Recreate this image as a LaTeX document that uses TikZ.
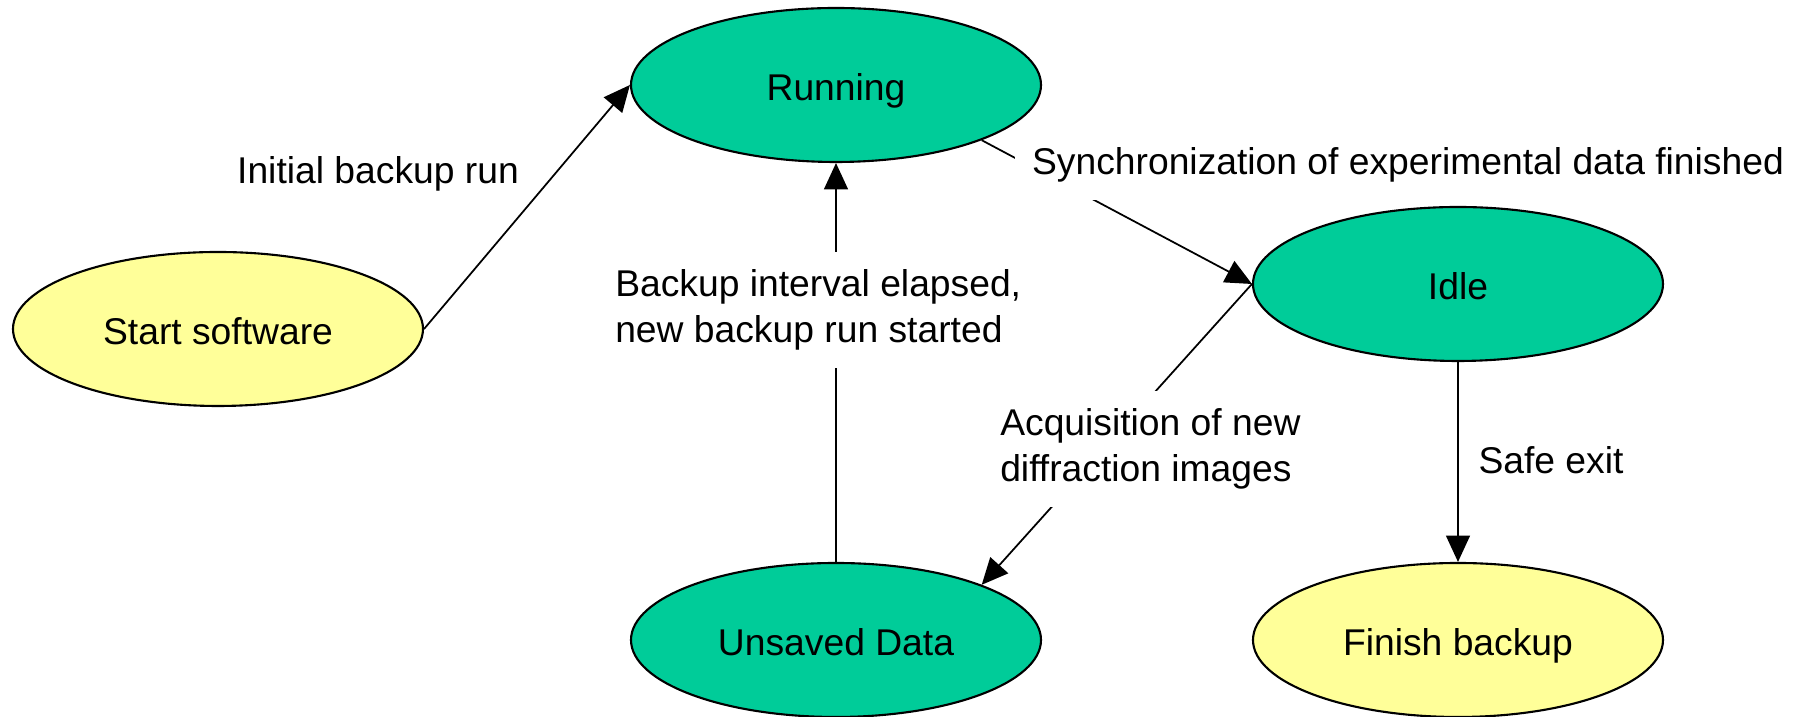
\documentclass[tikz,border=0pt]{standalone}
\usepackage{fontspec}
\setmainfont{Liberation Sans}
\usepackage{xcolor}
\usepackage{tikz}
\usetikzlibrary{shapes.geometric,arrows.meta}
\definecolor{stategreen}{HTML}{00CC99}
\definecolor{stateyellow}{HTML}{FFFF99}

\begin{document}
\begin{tikzpicture}[
  state/.style={ellipse, draw=black, line width=0.6pt, minimum width=4.1cm, minimum height=1.54cm, font=\fontsize{10.6}{13.1}\selectfont, text height=10.8pt, text depth=2.2pt},
  lbl/.style={fill=white, inner sep=5pt, align=left, font=\fontsize{10.6}{13.1}\selectfont},
  arr/.style={-{Triangle[length=7.5pt,width=6.8pt]}, line width=0.5pt}
]
\useasboundingbox (0,0) rectangle (17.97,-7.17);

\node[state, fill=stateyellow] (start) at (2.18,-3.29) {Start software};
\node[state, fill=stategreen] (run) at (8.36,-0.85) {Running};
\node[state, fill=stategreen] (idle) at (14.58,-2.84) {Idle};
\node[state, fill=stategreen] (unsaved) at (8.36,-6.40) {Unsaved Data};
\node[state, fill=stateyellow] (finish) at (14.58,-6.40) {Finish backup};

\draw[arr] (start.east) -- (run.west);
\draw[arr] (run.south east) -- (idle.west);
\draw[arr] (idle.west) -- (unsaved.north east);
\draw[arr] (unsaved.north) -- (run.south);
\draw[arr] (idle.south) -- (finish.north);

\node[lbl, fill=none] (initlbl) at (3.78,-1.74) {Initial backup run};
\node[lbl] (synclbl) at (14.08,-1.65) {Synchronization of experimental data finished};
\node[lbl, anchor=west] (backuplbl) at (5.97,-3.10) {Backup interval elapsed,\\new backup run started};
\node[lbl, anchor=west] (acqlbl) at (9.82,-4.49) {Acquisition of new\\diffraction images};
\node[lbl] (safelbl) at (15.51,-4.60) {Safe exit};
\end{tikzpicture}
\end{document}
